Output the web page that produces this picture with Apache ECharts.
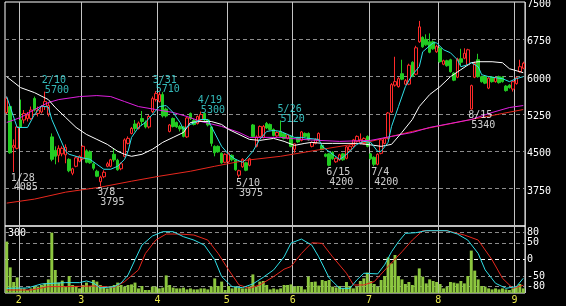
<!DOCTYPE html>
<html><head><meta charset="utf-8">
<script src="https://cdn.jsdelivr.net/npm/echarts@6/dist/echarts.min.js"></script>
<style>html,body{margin:0;padding:0;background:#000;}#c{width:566px;height:306px;}</style>
</head><body><div id="c"></div>
<script>
// ---- trading days (month, days) ----
const monthDays = [
  [1, [26,27,28,29]],
  [2, [1,2,3,4,5,8,9,10,12,15,16,17,18,19,22,23,24,25]],
  [3, [1,2,3,4,7,8,9,10,11,14,15,16,17,18,22,23,24,25,28,29,30,31]],
  [4, [1,4,5,6,7,8,11,12,13,14,15,18,19,20,21,22,25,26,27,28]],
  [5, [2,6,9,10,11,12,13,16,17,18,19,20,23,24,25,26,27,30,31]],
  [6, [1,2,3,6,7,8,9,10,13,14,15,16,17,20,21,22,23,24,27,28,29,30]],
  [7, [1,4,5,6,7,8,11,12,13,14,15,19,20,21,22,25,26,27,28,29]],
  [8, [1,2,3,4,5,8,9,10,12,15,16,17,18,19,22,23,24,25,26,29,30,31]],
  [9, [1,2,5]]
];
// ---- prices ----
const openP = [5280,5400,4580,4560,5130,5130,5160,5160,5560,5260,
5290,5400,5250,4790,4520,4420,4450,4430,4340,4060,
4200,4300,4350,4510,4490,4250,4100,3890,3990,4200,
4200,4440,4320,4150,4400,4660,4860,5050,4960,5160,
5080,4990,5300,5540,5500,5640,5350,4900,5160,5080,
5000,4990,4790,5260,5120,5060,5130,5260,5130,4990,
4600,4600,4460,4280,4290,4420,4330,4020,4190,4270,
4220,5030,4600,4800,4780,5060,5040,4940,4810,4900,
4860,4760,4800,4540,4770,4720,4860,4860,4600,4660,
4720,4620,4440,4450,4480,4290,4330,4450,4360,4530,
4600,4700,4660,4660,4800,4450,4380,4240,4460,4660,
4760,5290,5830,5800,6060,5850,5850,6290,6050,6700,
6790,6750,6700,6700,6500,6570,6250,6320,6340,6070,
5990,6360,6370,6240,5350,5990,6340,6000,6000,5770,
5990,5900,6000,5990,5810,5830,5750,5860,6100,6170];
const closeP = [5560,4470,4620,4990,4990,5260,5230,5330,5330,5330,
5400,5500,5420,4340,4400,4560,4560,4580,4110,4150,
4370,4400,4600,4280,4270,4160,4000,3980,4080,4250,
4330,4330,4130,4250,4730,4760,4960,4960,5070,5100,
4990,5200,5560,5660,5640,5210,5210,5030,5000,4990,
4950,4800,5170,5160,5040,5200,5240,5130,5030,4660,
4470,4490,4270,4440,4460,4330,4130,4110,4340,4120,
4350,4800,4790,5000,5000,4970,4940,4820,4880,4800,
4760,4830,4600,4650,4690,4890,4800,4730,4680,4740,
4860,4540,4400,4220,4350,4360,4430,4330,4590,4600,
4730,4800,4740,4760,4600,4350,4240,4440,4730,4760,
5270,5840,5900,5960,5950,5920,6230,6010,6580,7000,
6600,6640,6490,6560,6610,6300,6320,6220,6100,5930,
6350,6290,6470,6540,5820,6270,6000,5900,5870,5970,
5900,5980,5880,5900,5720,5780,5900,5980,6200,6270];
const lowP = [5250,4450,4085,4540,4970,5060,5100,5130,5300,5200,
5260,5330,5200,4300,4240,4280,4400,4260,4080,4020,
4180,4280,4330,4260,4250,4120,3980,3795,3960,4180,
4180,4290,4110,4120,4380,4640,4840,4900,4940,5020,
4960,4960,5270,5500,5480,5180,5180,4880,4980,4970,
4900,4780,4770,5130,5020,5040,5100,5100,5000,4600,
4400,4470,4250,4260,4270,4300,4110,3975,4170,4100,
4200,4780,4580,4780,4760,4950,4920,4800,4790,4780,
4740,4740,4580,4470,4670,4700,4780,4710,4580,4640,
4700,4520,4380,4200,4330,4270,4310,4310,4340,4510,
4580,4680,4640,4640,4580,4330,4200,4220,4440,4640,
4740,5270,5800,5780,5930,5830,5830,5990,6030,6680,
6580,6620,6470,6540,6480,6280,6230,6200,6080,5910,
5970,6230,6350,6220,5340,5970,5980,5880,5850,5750,
5880,5880,5860,5880,5700,5760,5700,5840,6080,6150];
const highP = [5600,5420,4740,5010,5540,5330,5290,5400,5600,5400,
5430,5700,5480,4860,4600,4620,4600,4640,4360,4170,
4400,4420,4620,4540,4520,4280,4130,4010,4120,4290,
4350,4560,4350,4280,4760,4800,4990,5130,5100,5310,
5120,5230,5600,5710,5690,5690,5380,5050,5180,5100,
5030,5010,5190,5280,5150,5220,5300,5280,5150,5010,
4620,4620,4480,4460,4480,4440,4350,4130,4360,4290,
4370,5050,4820,5020,5030,5090,5060,4960,4900,5120,
4880,4850,4820,4660,4790,4910,4880,4880,4700,4760,
4880,4640,4460,4470,4500,4380,4450,4470,4610,4620,
4750,4820,4860,4780,4820,4470,4400,4460,4760,4780,
5290,5870,6400,5990,6340,5950,6260,6310,6620,7120,
6810,6850,6870,6730,6640,6600,6340,6340,6360,6090,
6380,6560,6570,6560,5840,6300,6460,6020,6020,5990,
6010,6000,6020,6010,5830,5850,5920,6000,6340,6300];
const volume = [257,128,55,78,23,23,15,23,32,32,
40,48,68,302,115,52,62,32,85,40,
35,23,40,52,32,65,57,40,32,23,
35,40,52,40,32,40,43,52,23,35,
15,15,32,32,23,27,88,40,27,23,
23,27,18,23,18,18,23,23,18,32,
73,35,57,15,35,23,32,27,23,23,
32,93,32,57,60,40,18,23,18,23,
40,40,43,32,35,32,18,82,55,57,
37,65,60,65,32,28,35,23,55,35,
23,32,60,73,102,60,45,32,65,85,
178,148,190,85,68,45,55,40,87,123,
82,48,68,60,55,45,23,32,55,52,
48,60,48,85,212,112,68,35,32,23,
18,23,18,23,18,15,23,32,45,23];
// ---- moving averages [dayIndex, value] ----
const maShort = [[0,5600],[3,4980],[6,4980],[8,5240],[10,5410],[12,5390],[13,5140],[17,4500],[18,4440],[21,4380],[24,4340],[26,4240],[28,4140],[30,4140],[32,4200],[34,4340],[35,4500],[36,4780],[38,4980],[40,5080],[42,5240],[44,5400],[46,5420],[48,5280],[50,5080],[51,4940],[53,5040],[56,5140],[58,5140],[59,5000],[62,4600],[64,4440],[66,4340],[68,4280],[69,4340],[71,4500],[73,4740],[75,4900],[77,4920],[79,4900],[81,4840],[83,4780],[85,4780],[87,4760],[90,4740],[91,4600],[94,4440],[96,4340],[97,4380],[99,4500],[101,4640],[103,4700],[105,4680],[107,4500],[108,4500],[110,4680],[111,5000],[113,5400],[115,5800],[117,6040],[119,6200],[120,6500],[123,6680],[124,6680],[126,6540],[128,6480],[130,6340],[131,6200],[133,6240],[134,6280],[136,6200],[137,6040],[139,6000],[141,5980],[143,5960],[145,5900],[147,5960],[149,6000]];
const maMid = [[0,6000],[4,5780],[8,5680],[12,5540],[14,5380],[17,5180],[20,4980],[23,4840],[26,4740],[29,4640],[32,4500],[34,4440],[36,4400],[39,4440],[42,4540],[45,4680],[48,4780],[51,4880],[53,5080],[56,5100],[59,5100],[62,5040],[64,4940],[67,4840],[70,4740],[73,4720],[77,4760],[80,4700],[83,4620],[86,4660],[88,4680],[91,4660],[94,4660],[97,4660],[101,4660],[105,4630],[108,4600],[111,4640],[114,4880],[117,5140],[119,5400],[122,5640],[125,5800],[128,6000],[131,6140],[134,6280],[136,6300],[140,6300],[143,6280],[145,6160],[148,6100],[149,6080]];
const maLong = [[0,5080],[4,5180],[8,5340],[12,5480],[15,5540],[21,5600],[26,5620],[30,5600],[34,5500],[38,5400],[43,5340],[48,5280],[52,5200],[56,5100],[62,5000],[67,4880],[70,4780],[74,4780],[79,4780],[85,4740],[90,4720],[96,4700],[105,4720],[111,4800],[117,4880],[122,4980],[128,5060],[134,5140],[140,5280],[145,5380],[149,5420]];
const maTrend = [[0,3460],[8,3540],[17,3680],[27,3780],[36,3900],[44,4000],[53,4100],[60,4200],[69,4320],[79,4400],[90,4530],[105,4700],[117,4900],[124,5000],[134,5140],[143,5260],[149,5340]];
// ---- oscillators [dayIndex, value] ----
const oscFast = [[0,-86],[6,-85],[10,-73],[17,-69],[21,-69],[23,-64],[25,-70],[27,-85],[31,-81],[33,-70],[35,-46],[37,-1],[39,43],[42,70],[45,83],[48,83],[51,68],[54,58],[57,43],[60,-1],[62,-51],[65,-81],[68,-84],[71,-73],[74,-53],[77,-31],[80,8],[82,49],[85,61],[88,43],[90,8],[93,-55],[96,-86],[99,-86],[101,-61],[103,-41],[107,-43],[109,-16],[111,23],[113,53],[115,78],[118,80],[121,86],[127,86],[130,76],[133,58],[136,18],[138,-31],[141,-71],[144,-86],[147,-81],[149,-56]];
const oscSlow = [[0,-91],[7,-91],[12,-81],[17,-81],[25,-79],[31,-83],[34,-66],[38,-31],[40,18],[43,58],[46,76],[50,76],[54,73],[58,58],[61,18],[64,-31],[67,-76],[70,-86],[73,-76],[77,-51],[80,-29],[82,-21],[85,18],[88,50],[91,48],[94,8],[98,-41],[100,-76],[103,-76],[106,-66],[110,-21],[114,23],[117,58],[120,86],[127,86],[132,73],[136,58],[140,-1],[143,-56],[146,-86],[149,-77]];
// ---- axis ticks / labels ----
const priceMin = 3000, priceMax = 7500, priceStep = 750;
const oscMarks = [80, 50, 0, -50, -80];
const volMax = 335, volMark = 300;
const highMarks = [['2/10',5700],['3/31',5710],['4/19',5300],['5/26',5120]];
const lowMarks = [['1/28',4085],['3/8',3795],['5/10',3975],['6/15',4200],['7/4',4200],['8/15',5340]];

// ---- build ----
const days = [], monthStart = {};
monthDays.forEach(([m, ds]) => ds.forEach((d, k) => {
  if (k === 0 && m > 1) monthStart[days.length] = String(m);
  days.push(m + '/' + d);
}));
const N = days.length;
const candles = days.map((_, i) => [openP[i], closeP[i], lowP[i], highP[i]]);
const FONT = 'DejaVu Sans Mono';
const T = 'rgba(0,0,0,0)';
const oscColors = [];
for (let v = -100; v <= 100; v += 10) {
  oscColors.push(v === 0 ? '#ffffff' : (oscMarks.indexOf(v) >= 0 ? '#8c8c8c' : T));
}
const priceColors = [];
for (let v = priceMin; v <= priceMax; v += priceStep) {
  priceColors.push(v === priceMin || v === priceMax ? T : '#8c8c8c');
}
function line(data, color, g) {
  return {type: 'line', xAxisIndex: g ? 3 : 2, yAxisIndex: g ? 1 : 0, data: data,
    symbol: 'none', showSymbol: false, silent: true, z: 4,
    lineStyle: {color: color, width: 1}};
}
const monthSplit = {show: true, interval: (i) => (i in monthStart), lineStyle: {color: '#c4c4c4', width: 1}};
const chart = echarts.init(document.getElementById('c'), null, {renderer: 'canvas'});
chart.setOption({
  backgroundColor: '#000',
  animation: false,
  textStyle: {fontFamily: FONT},
  grid: [
    {left: 5, width: 520, top: 2, height: 224, show: true, borderColor: '#fff', borderWidth: 1, backgroundColor: T, outerBoundsMode: 'none', containLabel: false},
    {left: 5, width: 520, top: 226, height: 67, show: true, borderColor: '#fff', borderWidth: 1, backgroundColor: T, outerBoundsMode: 'none', containLabel: false}
  ],
  xAxis: [
    {type: 'category', gridIndex: 0, data: days, boundaryGap: true, axisLine: {show: false}, axisTick: {show: false}, axisLabel: {show: false}, splitLine: monthSplit},
    {type: 'category', gridIndex: 1, data: days, boundaryGap: true, axisLine: {show: false}, axisTick: {show: false},
      axisLabel: {show: true, interval: (i) => (i in monthStart), formatter: (v, i) => monthStart[i] || '', color: '#e8e84c', fontSize: 10, fontFamily: FONT, margin: 2, padding: [0, 3.5, 0, 0]},
      splitLine: monthSplit},
    {type: 'value', gridIndex: 0, min: -0.5, max: N - 0.5, show: false},
    {type: 'value', gridIndex: 1, min: -0.5, max: N - 0.5, show: false}
  ],
  yAxis: [
    {type: 'value', gridIndex: 0, position: 'right', min: priceMin, max: priceMax, interval: priceStep,
      axisLine: {show: false}, axisTick: {show: false},
      axisLabel: {color: '#fff', fontSize: 10, fontFamily: FONT, margin: 2, showMinLabel: false, showMaxLabel: true,
        verticalAlign: 'top', lineHeight: 5, formatter: (v) => String(v)},
      splitLine: {show: true, lineStyle: {type: [4, 3], color: priceColors, width: 1}}},
    {type: 'value', gridIndex: 1, position: 'right', min: -100, max: 100, interval: 10,
      axisLine: {show: false}, axisTick: {show: false},
      axisLabel: {color: '#fff', fontSize: 10, fontFamily: FONT, margin: 2, formatter: (v) => (oscMarks.indexOf(v) >= 0 ? String(v) : '')},
      splitLine: {show: true, lineStyle: {type: [4, 3], color: oscColors, width: 1}}},
    {type: 'value', gridIndex: 1, position: 'left', min: 0, max: volMax, interval: volMark,
      axisLine: {show: false}, axisTick: {show: false}, splitLine: {show: false},
      axisLabel: {inside: true, color: '#fff', fontSize: 10, fontFamily: FONT, margin: 3, showMinLabel: false, showMaxLabel: false, padding: [0, 0, 3, 0], formatter: (v) => String(v)}}
  ],
  series: [
    {type: 'bar', xAxisIndex: 1, yAxisIndex: 2, data: volume, barCategoryGap: '15%', itemStyle: {color: '#8cc63f'}, silent: true, z: 2},
    {type: 'candlestick', xAxisIndex: 0, yAxisIndex: 0, data: candles, barWidth: 3, silent: true, z: 2,
      itemStyle: {color: '#000', color0: '#22cc22', borderColor: '#ff2a2a', borderColor0: '#22cc22', borderWidth: 1}},
    line(maTrend, '#e8281e', 0),
    line(maLong, '#e020e0', 0),
    line(maMid, '#ffffff', 0),
    line(maShort, '#30e0e8', 0),
    line(oscSlow, '#e8281e', 1),
    line(oscFast, '#30e0e8', 1),
    {type: 'scatter', xAxisIndex: 2, yAxisIndex: 0, symbolSize: 1, itemStyle: {color: T}, silent: true, z: 6,
      data: highMarks.map(([d, p]) => ({value: [days.indexOf(d), p],
        label: {show: true, position: 'top', distance: 0, align: 'left', offset: [-3, 4], color: '#40e6e6',
          fontFamily: FONT, fontSize: 10, lineHeight: 9.5,
          formatter: () => '{d|' + d + '}\n{p|' + p + '}',
          rich: {d: {color: '#40e6e6', fontFamily: FONT, fontSize: 10, lineHeight: 9.5},
                 p: {color: '#40e6e6', fontFamily: FONT, fontSize: 10, lineHeight: 9.5, padding: [0, 0, 0, 3]}}}}))
    },
    {type: 'scatter', xAxisIndex: 2, yAxisIndex: 0, symbolSize: 1, itemStyle: {color: T}, silent: true, z: 6,
      data: lowMarks.map(([d, p]) => ({value: [days.indexOf(d), p],
        label: {show: true, position: 'bottom', distance: 0, align: 'left', offset: [-3, 1], color: '#ffffff',
          fontFamily: FONT, fontSize: 10, lineHeight: 9.5,
          formatter: () => '{d|' + d + '}\n{p|' + p + '}',
          rich: {d: {color: '#ffffff', fontFamily: FONT, fontSize: 10, lineHeight: 9.5},
                 p: {color: '#ffffff', fontFamily: FONT, fontSize: 10, lineHeight: 9.5, padding: [0, 0, 0, 3]}}}}))
    }
  ]
});
</script>
</body></html>
